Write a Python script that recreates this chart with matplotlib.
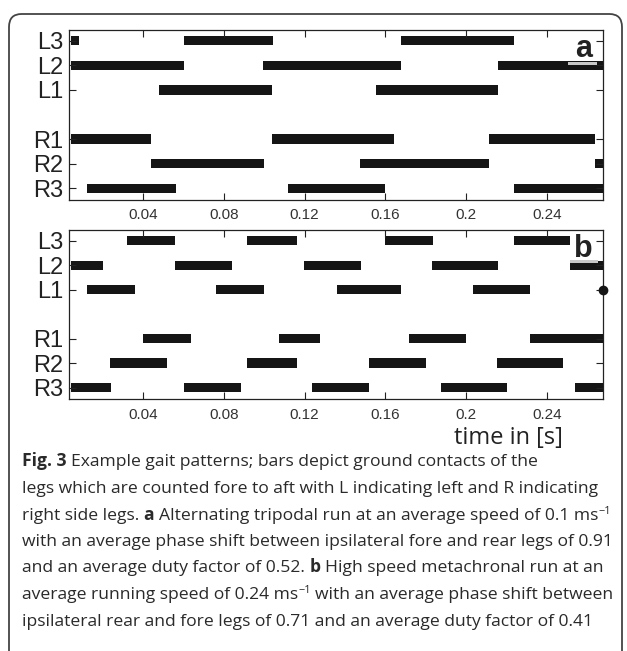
import matplotlib
matplotlib.use("Agg")
import matplotlib.pyplot as plt
from matplotlib.patches import FancyBboxPatch, Rectangle

# ---------------- data ----------------
legs = ["L3", "L2", "L1", "R1", "R2", "R3"]
leg_pos = [7, 6, 5, 3, 2, 1]
xticks = [0.04, 0.08, 0.12, 0.16, 0.2, 0.24]
xtick_labels = ["0.04", "0.08", "0.12", "0.16", "0.2", "0.24"]

# ground contacts (start, end) in seconds, panel a
a_L3 = [(0.0044, 0.0083), (0.0602, 0.1044), (0.1677, 0.2236)]
a_L2 = [(0.0044, 0.0602), (0.0994, 0.1677), (0.2156, 0.2700)]
a_L1 = [(0.0479, 0.1038), (0.1552, 0.2156)]
a_R1 = [(0.0044, 0.0440), (0.1038, 0.1642), (0.2113, 0.2638)]
a_R2 = [(0.0440, 0.0998), (0.1473, 0.2113), (0.2638, 0.2700)]
a_R3 = [(0.0123, 0.0562), (0.1117, 0.1598), (0.2236, 0.2700)]

# panel b
b_L3 = [(0.0321, 0.0558), (0.0915, 0.1162), (0.1598, 0.1836), (0.2236, 0.2513)]
b_L2 = [(0.0044, 0.0202), (0.0558, 0.0840), (0.1196, 0.1479), (0.1830, 0.2156), (0.2513, 0.2700)]
b_L1 = [(0.0123, 0.0360), (0.0760, 0.0998), (0.1360, 0.1677), (0.2034, 0.2315)]
b_R1 = [(0.0400, 0.0638), (0.1073, 0.1275), (0.1717, 0.1998), (0.2315, 0.2700)]
b_R2 = [(0.0236, 0.0519), (0.0915, 0.1162), (0.1519, 0.1800), (0.2152, 0.2479)]
b_R3 = [(0.0044, 0.0242), (0.0602, 0.0885), (0.1236, 0.1519), (0.1875, 0.2202), (0.2539, 0.2700)]
b_dot_time = [0.2677]
b_dot_leg = [5]

panel_a = [a_L3, a_L2, a_L1, a_R1, a_R2, a_R3]
panel_b = [b_L3, b_L2, b_L1, b_R1, b_R2, b_R3]

xlim = (0.0035, 0.268)
ylim = (0.52, 7.44)

caption_lines = [
    [("Fig. 3", "bold"), (" Example gait patterns; bars depict ground contacts of the", "normal")],
    [("legs which are counted fore to aft with L indicating left and R indicating", "normal")],
    [("right side legs. ", "normal"), ("a", "bold"), (" Alternating tripodal run at an average speed of 0.1 ms", "normal"), ("\u22121", "sup")],
    [("with an average phase shift between ipsilateral fore and rear legs of 0.91", "normal")],
    [("and an average duty factor of 0.52. ", "normal"), ("b", "bold"), (" High speed metachronal run at an", "normal")],
    [("average running speed of 0.24 ms", "normal"), ("\u22121", "sup"), (" with an average phase shift between", "normal")],
    [("ipsilateral rear and fore legs of 0.71 and an average duty factor of 0.41", "normal")],
]

# ---------------- figure ----------------
W, H = 627, 651
fig = plt.figure(figsize=(W / 100, H / 100), dpi=100)
fig.patch.set_facecolor("white")

def fx(px):
    return px / W

def fy(py):
    return 1 - py / H

# frame around figure
frame = FancyBboxPatch((fx(9), fy(700)), fx(622) - fx(9), fy(14) - fy(700),
                       boxstyle="round,pad=0,rounding_size=0.02",
                       transform=fig.transFigure, fill=False,
                       edgecolor="#444444", linewidth=1.3, zorder=0)
fig.patches.append(frame)

bar_color = "#151515"
bar_h = 0.38

def draw_panel(ax, panel, label):
    for segs, y in zip(panel, leg_pos):
        ax.broken_barh([(s, e - s) for s, e in segs], (y - bar_h / 2, bar_h),
                       facecolors=bar_color, edgecolor="none")
    ax.set_xlim(*xlim)
    ax.set_ylim(*ylim)
    ax.set_yticks(leg_pos)
    ax.set_yticklabels(legs, fontsize=17, color="#222222", family="Liberation Sans")
    ax.set_xticks(xticks)
    ax.set_xticklabels(xtick_labels, fontsize=11, color="#333333", family="Liberation Sans")
    ax.tick_params(axis="both", direction="in", length=5, width=0.8,
                   top=True, right=True, color="#222222")
    ax.tick_params(axis="y", pad=4)
    ax.tick_params(axis="x", pad=6)
    for sp in ax.spines.values():
        sp.set_linewidth(0.9)
        sp.set_color("#222222")
    ax.text(0.963, 0.84, label, transform=ax.transAxes, ha="center", va="baseline",
            fontsize=22, fontweight="bold", family="Liberation Sans", color="#222222",
            zorder=5)

axa = fig.add_axes([fx(69.3), fy(200), fx(603.3) - fx(69.3), fy(30) - fy(200)])
draw_panel(axa, panel_a, "a")
axb = fig.add_axes([fx(69.3), fy(399.3), fx(603.3) - fx(69.3), fy(230) - fy(399.3)])
draw_panel(axb, panel_b, "b")
axb.plot(b_dot_time, b_dot_leg, "o", color=bar_color, markersize=6, clip_on=False, zorder=6)

# grey strips under the panel labels (figure pixels)
for (x0, x1, y0, y1) in [(568, 597, 61.5, 64.5), (570, 598, 260, 263.3)]:
    fig.patches.append(Rectangle((fx(x0), fy(y1)), fx(x1) - fx(x0), fy(y0) - fy(y1),
                                 transform=fig.transFigure, facecolor="#c8c8c8",
                                 edgecolor="none", zorder=10))

fig.text(fx(508), fy(438), "time in [s]", ha="center", va="center",
         fontsize=17, family="Open Sans", color="#222222")

# ---------------- caption ----------------
renderer = fig.canvas.get_renderer()
cap_family = "Open Sans"
cap_color = "#2a2a2a"

def text_width(s, size, weight):
    t = fig.text(0, 0, s, fontsize=size, fontweight=weight, family=cap_family)
    w = t.get_window_extent(renderer).width
    t.remove()
    return w

# choose size so line 4 spans ~592 px
target = 592.0
size = 11.5
w = text_width(caption_lines[3][0][0], size, "normal")
size = size * target / w

space_w = text_width("x x", size, "normal") - text_width("xx", size, "normal")
line_y = [461, 488, 514.5, 541, 567.5, 594, 620.5]
x_start = 22
for runs, yy in zip(caption_lines, line_y):
    x = x_start
    for s, style in runs:
        if style == "sup":
            fs, wt, dy = size * 0.62, "normal", -6
        else:
            fs, wt, dy = size, style, 0
        lead = len(s) - len(s.lstrip(" "))
        trail = len(s) - len(s.rstrip(" "))
        x += lead * space_w
        core = s.strip(" ")
        t = fig.text(fx(x), fy(yy + 5 + dy), core, fontsize=fs, fontweight=wt,
                     family=cap_family, color=cap_color, ha="left", va="baseline")
        x += t.get_window_extent(renderer).width
        x += trail * space_w

fig.savefig("out.png", dpi=100, facecolor="white")
